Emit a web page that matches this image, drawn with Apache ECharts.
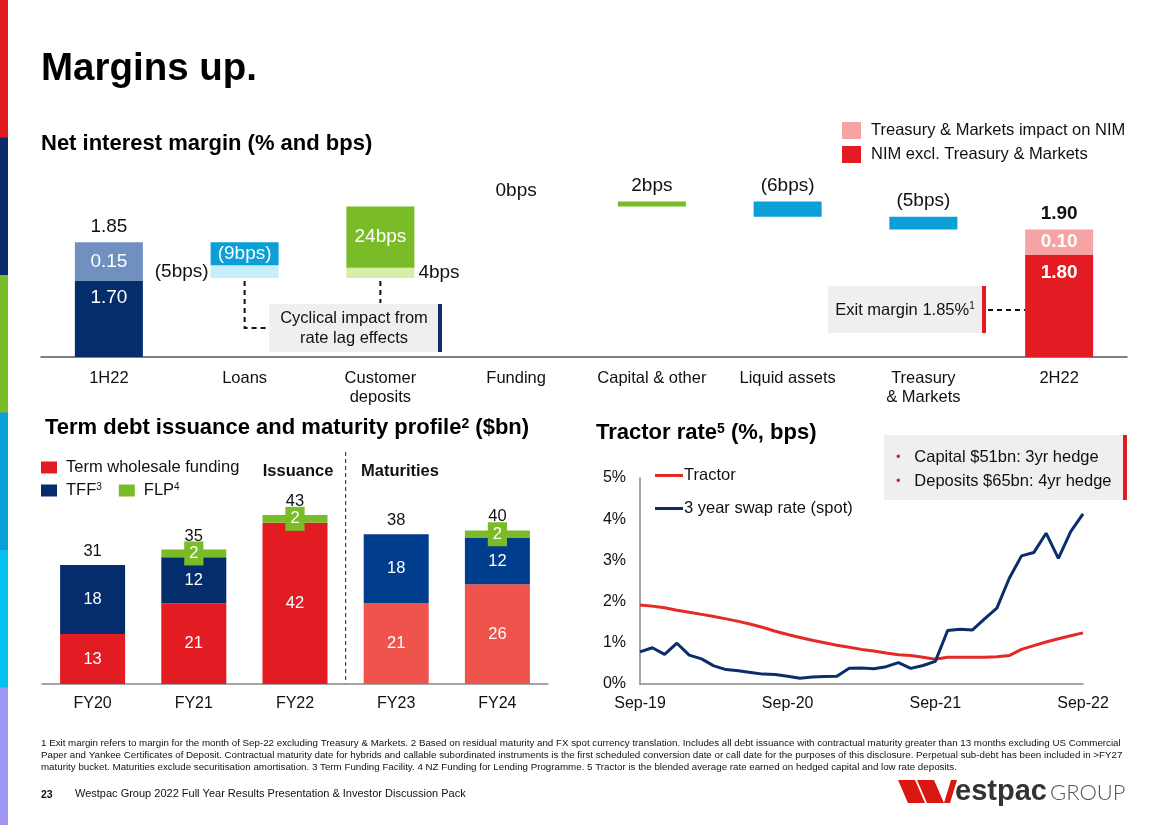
<!DOCTYPE html>
<html><head><meta charset="utf-8">
<script src="https://cdn.jsdelivr.net/npm/echarts@6/dist/echarts.min.js"></script>
<style>html,body{margin:0;padding:0;background:#fff}#c{width:1168px;height:825px}</style>
</head><body><div id="c"></div>
<script>
const FONT = '"Liberation Sans", Arial, sans-serif';

// ---------- Net interest margin waterfall ----------
const nimCategories = ['1H22', 'Loans', 'Customer\ndeposits', 'Funding', 'Capital & other', 'Liquid assets', 'Treasury\n& Markets', '2H22'];
const nimTotals   = [1.85, null, null, null, null, null, null, 1.90];
const nimExclTM   = [1.70, null, null, null, null, null, null, 1.80];
const nimTM       = [0.15, null, null, null, null, null, null, 0.10];
const nimMoves    = [null, -0.09, 0.24, 0.00, 0.02, -0.06, -0.05, null];
const nimCyclical = [null, -0.05, 0.04, null, null, null, null, null];

// ---------- Term debt ----------
const debtCategories = ['FY20', 'FY21', 'FY22', 'FY23', 'FY24'];
const debtWholesale = [13, 21, 42, 21, 26];
const debtTFF       = [18, 12, 0, 18, 12];
const debtFLP       = [0, 2, 2, 0, 2];
const debtTotals    = [31, 35, 43, 38, 40];

// ---------- Tractor ----------
const tractorMonths = ['Sep-19','Oct-19','Nov-19','Dec-19','Jan-20','Feb-20','Mar-20','Apr-20','May-20','Jun-20','Jul-20','Aug-20',
  'Sep-20','Oct-20','Nov-20','Dec-20','Jan-21','Feb-21','Mar-21','Apr-21','May-21','Jun-21','Jul-21','Aug-21',
  'Sep-21','Oct-21','Nov-21','Dec-21','Jan-22','Feb-22','Mar-22','Apr-22','May-22','Jun-22','Jul-22','Aug-22','Sep-22'];
const tractorRate = [1.92,1.89,1.85,1.79,1.74,1.69,1.64,1.58,1.52,1.45,1.37,1.28,
  1.20,1.13,1.06,1.00,0.94,0.89,0.84,0.80,0.75,0.71,0.69,0.65,
  0.60,0.65,0.65,0.65,0.65,0.66,0.69,0.84,0.93,1.02,1.10,1.17,1.24];
const swapRate = [0.78,0.88,0.72,0.99,0.70,0.61,0.44,0.35,0.32,0.28,0.24,0.23,
  0.19,0.14,0.17,0.18,0.19,0.38,0.39,0.37,0.42,0.52,0.38,0.45,
  0.55,1.30,1.33,1.31,1.58,1.84,2.56,3.11,3.19,3.66,3.05,3.70,4.13];
const tractorYTicks = [0, 1, 2, 3, 4, 5];

// ---------- styles ----------
const NAVY = '#062d6b', RED = '#e31b23', GREEN = '#79bc28', BLUE = '#0a9fd6';
const nimLowerColors = [NAVY, '#c8edfb', '#d3efa8', '#ffffff', GREEN, BLUE, BLUE, RED];
const nimUpperColors = ['#7090c0', BLUE, GREEN, '#ffffff', GREEN, BLUE, BLUE, '#f5a3a3'];

const r4 = v => Math.round(v * 10000) / 10000;
const fmtBps = v => { const b = Math.round(v * 100); return b < 0 ? '(' + (-b) + 'bps)' : b + 'bps'; };

// waterfall computation
const nimBase = [], nimLow = [], nimUp = [], nimTopText = [];
let running = nimTotals[0];
for (let i = 0; i < nimCategories.length; i++) {
  if (nimExclTM[i] != null) {
    nimBase.push(0); nimLow.push(nimExclTM[i]); nimUp.push(nimTM[i]);
    nimTopText.push(nimTotals[i].toFixed(2));
    running = nimTotals[i];
  } else {
    const main = nimMoves[i] || 0, cyc = nimCyclical[i] || 0;
    const next = r4(running + main + cyc);
    nimBase.push(r4(Math.min(running, next)));
    if (nimCyclical[i] != null) { nimLow.push(r4(Math.abs(cyc))); nimUp.push(r4(Math.abs(main))); nimTopText.push(''); }
    else { nimLow.push(r4(Math.abs(main))); nimUp.push(0); nimTopText.push(fmtBps(main)); }
    running = next;
  }
}

const lblBase = { fontFamily: FONT, fontSize: 19 };
const lowerData = nimLow.map((v, i) => {
  const item = { value: v, itemStyle: { color: nimLowerColors[i] }, label: { show: false } };
  if (i === 0 || i === nimCategories.length - 1) {
    item.label = Object.assign({}, lblBase, { show: true, position: 'insideTop', distance: 8, color: '#fff',
      fontWeight: i === 0 ? 'normal' : 'bold', formatter: () => nimExclTM[i].toFixed(2) });
  } else if (nimCyclical[i] != null) {
    item.label = Object.assign({}, lblBase, { show: true, position: nimCyclical[i] < 0 ? 'left' : 'right',
      distance: nimCyclical[i] < 0 ? 2 : 4, color: '#111', formatter: () => fmtBps(nimCyclical[i]) });
  }
  return item;
});
const upperData = nimUp.map((v, i) => {
  const item = { value: v, itemStyle: { color: nimUpperColors[i] }, label: { show: false } };
  if (i === 0 || i === nimCategories.length - 1) {
    item.label = Object.assign({}, lblBase, { show: true, position: 'inside', color: '#fff',
      fontWeight: i === 0 ? 'normal' : 'bold', formatter: () => nimTM[i].toFixed(2) });
  } else if (nimCyclical[i] != null) {
    item.label = Object.assign({}, lblBase, { show: true, position: 'inside', color: '#fff', formatter: () => fmtBps(nimMoves[i]) });
  }
  return item;
});
const topData = nimCategories.map((c, i) => ({
  value: 0,
  label: Object.assign({}, lblBase, { show: nimTopText[i] !== '', position: 'top', distance: 6, color: '#111',
    fontWeight: i === nimCategories.length - 1 ? 'bold' : 'normal', formatter: () => nimTopText[i] })
}));

// term debt data items
const lightIdx = i => i >= 3;
const wholesaleData = debtWholesale.map((v, i) => ({ value: v, itemStyle: { color: lightIdx(i) ? '#f0524c' : RED } }));
const tffData = debtTFF.map((v, i) => ({ value: v, itemStyle: { color: lightIdx(i) ? '#003d8c' : NAVY }, label: { show: v > 0 } }));
const flpData = debtFLP.map(v => ({ value: v, label: { show: v > 0 } }));
const debtTopData = debtCategories.map((c, i) => ({ value: 0, label: { show: true, formatter: () => String(debtTotals[i]) } }));

const chart = echarts.init(document.getElementById('c'), null, { width: 1168, height: 825 });

const axisLabelCommon = { fontFamily: FONT, color: '#111' };
const legendText = { fontFamily: FONT, fontSize: 16.5, color: '#111' };

chart.setOption({
  animation: false,
  backgroundColor: '#fff',
  textStyle: { fontFamily: FONT },
  grid: [
    { left: 41, width: 1086, top: 178.5, height: 178.5 },
    { left: 42, width: 506, top: 492, height: 192 },
    { left: 640, width: 443, top: 478, height: 206 }
  ],
  legend: [
    { data: ['Treasury & Markets impact on NIM', 'NIM excl. Treasury & Markets'], orient: 'vertical', padding: 0,
      left: 842, top: 122, itemWidth: 19, itemHeight: 17, itemGap: 7, icon: 'rect', selectedMode: false,
      textStyle: Object.assign({ padding: [0, 0, 0, 5] }, legendText) },
    { data: ['Term wholesale funding'], left: 41, top: 459, padding: 0, itemWidth: 16, itemHeight: 12, icon: 'rect', selectedMode: false,
      textStyle: Object.assign({ padding: [0, 0, 0, 4] }, legendText) },
    { data: ['TFF', 'FLP'], left: 41, top: 482, padding: 0, itemWidth: 16, itemHeight: 12, itemGap: 17, icon: 'rect', selectedMode: false,
      formatter: n => n === 'TFF' ? 'TFF{s|3}' : 'FLP{s|4}',
      textStyle: Object.assign({ padding: [0, 0, 0, 4],
        rich: { s: { fontSize: 10, verticalAlign: 'top', fontFamily: FONT, color: '#111' } } }, legendText) },
    { data: ['Tractor'], left: 655, top: 467, padding: 0, itemWidth: 28, itemHeight: 3, icon: 'rect', selectedMode: false,
      textStyle: Object.assign({ padding: [0, 0, 0, -4] }, legendText) },
    { data: ['3 year swap rate (spot)'], left: 655, top: 500, padding: 0, itemWidth: 28, itemHeight: 3, icon: 'rect', selectedMode: false,
      textStyle: Object.assign({ padding: [0, 0, 0, -4] }, legendText) }
  ],
  xAxis: [
    { gridIndex: 0, type: 'category', data: nimCategories, axisTick: { show: false },
      axisLine: { lineStyle: { color: '#555', width: 1.5 } },
      axisLabel: Object.assign({}, axisLabelCommon, { fontSize: 16.5, lineHeight: 19, margin: 12, interval: 0 }) },
    { gridIndex: 1, type: 'category', data: debtCategories, axisTick: { show: false },
      axisLine: { lineStyle: { color: '#888', width: 1.5 } },
      axisLabel: Object.assign({}, axisLabelCommon, { fontSize: 16, margin: 12 }) },
    { gridIndex: 2, type: 'category', data: tractorMonths, boundaryGap: false, axisTick: { show: false },
      axisLine: { lineStyle: { color: '#888', width: 1.5 } },
      axisLabel: Object.assign({}, axisLabelCommon, { fontSize: 16, margin: 12, interval: i => i % 12 === 0 }) }
  ],
  yAxis: [
    { gridIndex: 0, type: 'value', min: 1.40, max: 2.10, show: false },
    { gridIndex: 1, type: 'value', min: 0, max: 50, show: false },
    { gridIndex: 2, type: 'value', min: tractorYTicks[0], max: tractorYTicks[tractorYTicks.length - 1], interval: 1,
      splitLine: { show: false }, axisTick: { show: false },
      axisLine: { show: true, lineStyle: { color: '#888', width: 1.5 } },
      axisLabel: Object.assign({}, axisLabelCommon, { fontSize: 16, margin: 14, formatter: '{value}%' }) }
  ],
  series: [
    { name: 'base', type: 'bar', xAxisIndex: 0, yAxisIndex: 0, stack: 'nim', barWidth: 68, silent: true,
      itemStyle: { color: 'rgba(0,0,0,0)' }, data: nimBase },
    { name: 'NIM excl. Treasury & Markets', type: 'bar', xAxisIndex: 0, yAxisIndex: 0, stack: 'nim', barWidth: 68,
      itemStyle: { color: RED }, data: lowerData },
    { name: 'Treasury & Markets impact on NIM', type: 'bar', xAxisIndex: 0, yAxisIndex: 0, stack: 'nim', barWidth: 68,
      itemStyle: { color: '#f5a3a3' }, data: upperData },
    { name: 'nimTop', type: 'bar', xAxisIndex: 0, yAxisIndex: 0, stack: 'nim', barWidth: 68, silent: true,
      itemStyle: { color: 'rgba(0,0,0,0)' }, data: topData },

    { name: 'Term wholesale funding', type: 'bar', xAxisIndex: 1, yAxisIndex: 1, stack: 'debt', barWidth: 65,
      itemStyle: { color: RED },
      label: { show: true, position: 'inside', color: '#fff', fontSize: 16.5, fontFamily: FONT }, data: wholesaleData },
    { name: 'TFF', type: 'bar', xAxisIndex: 1, yAxisIndex: 1, stack: 'debt', barWidth: 65,
      itemStyle: { color: NAVY },
      label: { position: 'inside', color: '#fff', fontSize: 16.5, fontFamily: FONT }, data: tffData },
    { name: 'FLP', type: 'bar', xAxisIndex: 1, yAxisIndex: 1, stack: 'debt', barWidth: 65,
      itemStyle: { color: GREEN },
      label: { position: 'inside', color: '#fff', fontSize: 16.5, fontFamily: FONT, backgroundColor: GREEN, padding: [4, 5, 3, 5] },
      data: flpData },
    { name: 'debtTop', type: 'bar', xAxisIndex: 1, yAxisIndex: 1, stack: 'debt', barWidth: 65, silent: true,
      itemStyle: { color: 'rgba(0,0,0,0)' },
      label: { position: 'top', distance: 5, color: '#111', fontSize: 16.5, fontFamily: FONT }, data: debtTopData },

    { name: 'Tractor', type: 'line', xAxisIndex: 2, yAxisIndex: 2, data: tractorRate, showSymbol: false, symbol: 'none',
      itemStyle: { color: '#e52a26' }, lineStyle: { color: '#e52a26', width: 3 } },
    { name: '3 year swap rate (spot)', type: 'line', xAxisIndex: 2, yAxisIndex: 2, data: swapRate, showSymbol: false, symbol: 'none',
      itemStyle: { color: '#0a2e6b' }, lineStyle: { color: '#0a2e6b', width: 3 } }
  ]
});

// ---------- decorations (positions derived from the chart's scales where attached to marks) ----------
const px = (g, cat, val) => chart.convertToPixel({ gridIndex: g }, [cat, val]);
const last = nimCategories.length - 1;
const half = 34;
const cFirst = px(0, nimCategories[0], 1.53);
const cLast = px(0, nimCategories[last], 1.53);
const pLoans = px(0, nimCategories[1], nimBase[1]);
const pCD = px(0, nimCategories[2], nimBase[2]);
const d22 = px(1, debtCategories[2], 0), d23 = px(1, debtCategories[3], 0);
const divX = (d22[0] + d23[0]) / 2;

const T = (x, y, text, o) => ({ type: 'text', silent: true, x, y, style: Object.assign({
  text, fontFamily: FONT, fontSize: 16.5, fill: '#111', align: 'left', verticalAlign: 'middle',
  textAlign: 'left', textVerticalAlign: 'middle' }, o || {}) });
const R = (x, y, w, h, fill) => ({ type: 'rect', silent: true, shape: { x, y, width: w, height: h }, style: { fill } });
const supRich = { s: { fontFamily: FONT, fontSize: 14, fontWeight: 'bold', verticalAlign: 'top', fill: '#000' } };

const stripeColors = ['#e3181f', '#0b2b6b', '#79bd2a', '#0a9fd8', '#04c1f1', '#a096f6'];
const elements = [];
stripeColors.forEach((c, i) => elements.push(R(0, i * 137.5, 8, 137.5 + 1, c)));

elements.push(
  T(41, 69, 'Margins up.', { fontSize: 38.5, fontWeight: 'bold', fill: '#000' }),
  T(41, 144, 'Net interest margin (% and bps)', { fontSize: 22, fontWeight: 'bold', fill: '#000' }),
  T(45, 428, 'Term debt issuance and maturity profile{s|2} ($bn)', { fontSize: 22, fontWeight: 'bold', fill: '#000', rich: supRich }),
  T(596, 433, 'Tractor rate{s|5} (%, bps)', { fontSize: 22, fontWeight: 'bold', fill: '#000', rich: supRich }),

  // axis-break slashes
  { type: 'line', silent: true, shape: { x1: cFirst[0] - half - 1, y1: cFirst[1] + 4.5, x2: cFirst[0] + half + 1, y2: cFirst[1] - 4.5 }, style: { stroke: '#fff', lineWidth: 4 } },
  { type: 'line', silent: true, shape: { x1: cLast[0] - half - 1, y1: cLast[1] + 4.5, x2: cLast[0] + half + 1, y2: cLast[1] - 4.5 }, style: { stroke: '#fff', lineWidth: 4 } },

  // cyclical callout
  R(269, 304, 170, 48, '#efefef'),
  R(438, 304, 4, 48, '#0b2d6b'),
  T(354, 328, 'Cyclical impact from\nrate lag effects', { lineHeight: 20, align: 'center', textAlign: 'center' }),
  { type: 'polyline', silent: true, shape: { points: [[pLoans[0], pLoans[1] + 3], [pLoans[0], 328], [268, 328]] },
    style: { stroke: '#111', lineWidth: 2, lineDash: [5, 4], fill: null } },
  { type: 'line', silent: true, shape: { x1: pCD[0], y1: pCD[1] + 3, x2: pCD[0], y2: 303 },
    style: { stroke: '#111', lineWidth: 2, lineDash: [5, 4] } },

  // exit margin callout
  R(828, 286, 155, 47, '#efefef'),
  R(982, 286, 4, 47, '#e31b23'),
  T(905, 310, 'Exit margin 1.85%{s|1}', { align: 'center', textAlign: 'center',
    rich: { s: { fontFamily: FONT, fontSize: 10, verticalAlign: 'top', fill: '#111' } } }),
  { type: 'line', silent: true, shape: { x1: 988, y1: 310, x2: cLast[0] - half, y2: 310 },
    style: { stroke: '#111', lineWidth: 2, lineDash: [5, 4] } },

  // term debt annotations
  { type: 'line', silent: true, shape: { x1: divX, y1: 452, x2: divX, y2: d22[1] },
    style: { stroke: '#444', lineWidth: 1.2, lineDash: [4, 3] } },
  T(298, 471, 'Issuance', { fontWeight: 'bold', align: 'center', textAlign: 'center' }),
  T(400, 471, 'Maturities', { fontWeight: 'bold', align: 'center', textAlign: 'center' }),

  // tractor box
  R(884, 435, 240, 65, '#efefef'),
  R(1123, 435, 4, 65, '#e31b23'),
  T(896, 457, '{b|•}   Capital $51bn: 3yr hedge', { rich: { b: { fill: '#e31b23', fontSize: 13, fontFamily: FONT } } }),
  T(896, 481, '{b|•}   Deposits $65bn: 4yr hedge', { rich: { b: { fill: '#e31b23', fontSize: 13, fontFamily: FONT } } }),

  // footnotes
  T(41, 743, '1 Exit margin refers to margin for the month of Sep-22 excluding Treasury & Markets. 2 Based on residual maturity and FX spot currency translation. Includes all debt issuance with contractual maturity greater than 13 months excluding US Commercial', { fontSize: 9.75 }),
  T(41, 755, 'Paper and Yankee Certificates of Deposit. Contractual maturity date for hybrids and callable subordinated instruments is the first scheduled conversion date or call date for the purposes of this disclosure. Perpetual sub-debt has been included in >FY27', { fontSize: 9.75 }),
  T(41, 767, 'maturity bucket. Maturities exclude securitisation amortisation. 3 Term Funding Facility. 4 NZ Funding for Lending Programme. 5 Tractor is the blended average rate earned on hedged capital and low rate deposits.', { fontSize: 9.75 }),

  // footer
  T(41, 795, '23', { fontSize: 10.5, fontWeight: 'bold' }),
  T(75, 794, 'Westpac Group 2022 Full Year Results Presentation & Investor Discussion Pack', { fontSize: 11 }),

  // logo
  { type: 'polygon', silent: true, shape: { points: [[898, 780], [915, 780], [925, 803], [908, 803]] }, style: { fill: '#da1710' } },
  { type: 'polygon', silent: true, shape: { points: [[917, 780], [934, 780], [944, 803], [927, 803]] }, style: { fill: '#da1710' } },
  { type: 'polygon', silent: true, shape: { points: [[944, 803], [950, 803], [957, 780], [951, 780]] }, style: { fill: '#da1710' } },
  T(955, 792, 'estpac', { fontSize: 29, fontWeight: 'bold', fill: '#333' }),
  T(1050, 793, 'GROUP', { fontSize: 22, fontFamily: 'Lato, "Open Sans", sans-serif', fontWeight: 300, fill: '#555' })
);

chart.setOption({ graphic: { elements } });
</script>
</body></html>
